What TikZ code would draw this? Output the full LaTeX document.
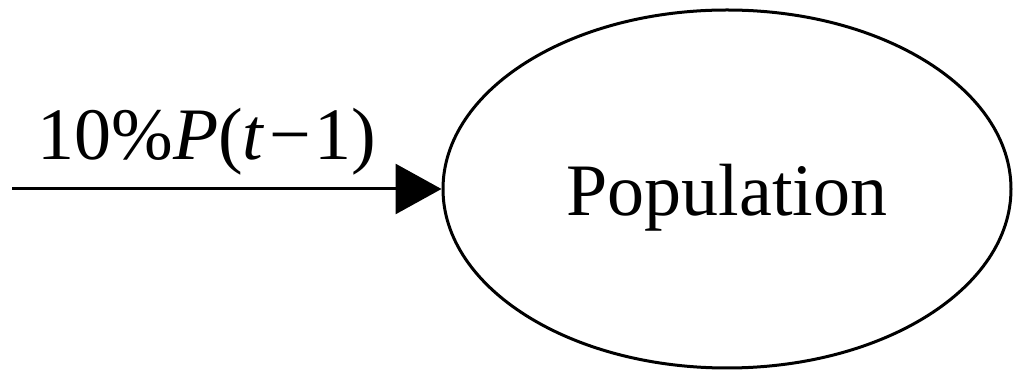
\documentclass[tikz,border=0pt]{standalone}
\usepackage{fontspec}
\setmainfont{Liberation Serif}
\usetikzlibrary{arrows.meta,shapes.geometric}

\begin{document}
\begin{tikzpicture}[x=0.5pt,y=-0.5pt,line width=1.5pt,>={Triangle[length=23pt,width=25pt]},
  big/.style={font=\fontsize{37}{44}\selectfont}]
  \useasboundingbox (0,0) rectangle (1013,373);
  % stock
  \node[ellipse,draw,big,minimum width=284pt,minimum height=179pt,text height=27pt,text depth=0pt] (pop) at (727,189) {Population};
  % inflow
  \coordinate (src) at (12,189);
  \draw[->] (src) -- (pop.west);
  \node[big,anchor=base west,inner sep=0pt] (rate) at (36,160) {10\%\textit{P}(\textit{t}\kern2pt−\kern2pt1)};
\end{tikzpicture}
\end{document}
